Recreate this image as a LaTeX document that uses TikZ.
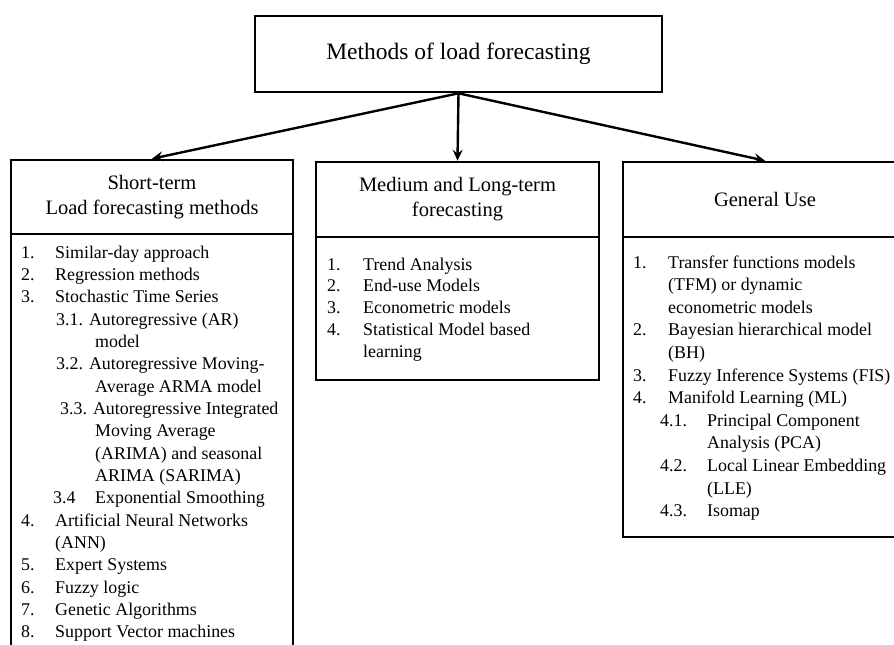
\documentclass[tikz,border=0pt]{standalone}
\usepackage{fontspec}
\setmainfont{Liberation Serif}
\usetikzlibrary{arrows.meta}
\newcommand\itemnum[2]{\makebox[#1][l]{#2}}
\begin{document}
\begin{tikzpicture}[x=1pt,y=-1pt,
  box/.style={draw, line width=2.6pt, rectangle, inner sep=0pt},
  hdr/.style={box, align=center, font=\fontsize{20.5}{25}\selectfont},
  item/.style={anchor=base west, inner sep=0pt, font=\fontsize{17.9}{22}\selectfont},
  arr/.style={line width=2.4pt, -{Stealth[length=11pt,width=10pt,inset=4pt]}}]
\useasboundingbox (0,0) rectangle (894,645);
\clip (0,0) rectangle (894,645);

\node[box, minimum width=407pt, minimum height=76pt, font=\fontsize{23.5}{28}\selectfont] (top) at (458.5,54) {Methods of load forecasting};

% headers
\node[hdr, minimum width=282pt, minimum height=74pt] (sh) at (152,197) {Short-term\\Load forecasting methods};
\node[hdr, minimum width=283pt, minimum height=75pt] (mh) at (457.5,199.5) {Medium and Long-term\\forecasting};
\node[hdr, minimum width=284pt, minimum height=75pt] (gh) at (765,199.5) {General Use};

% list boxes
\node[box, minimum width=282pt, minimum height=436pt] (sl) at (152,452) {};
\node[box, minimum width=283pt, minimum height=143pt] (ml) at (457.5,308.5) {};
\node[box, minimum width=284pt, minimum height=300pt] (gl) at (765,387) {};

% connectors
\draw[arr] (top.south) -- (sh.north);
\draw[arr] (top.south) -- (mh.north);
\draw[arr] (top.south) -- (gh.north);

% left list
\foreach \x/\k/\t [count=\i] in {
  21/0/{\itemnum{34pt}{1.}Similar-day approach},
  21/1/{\itemnum{34pt}{2.}Regression methods},
  21/2/{\itemnum{34pt}{3.}Stochastic Time Series},
  56/3/{3.1. Autoregressive (AR)},
  95/4/{model},
  56/5/{3.2. Autoregressive Moving-},
  95/6/{Average ARMA model},
  60/7/{3.3. Autoregressive Integrated},
  95/8/{Moving Average},
  95/9/{(ARIMA) and seasonal},
  95/10/{ARIMA (SARIMA)},
  53/11/{\itemnum{42pt}{3.4}Exponential Smoothing},
  21/12/{\itemnum{34pt}{4.}Artificial Neural Networks},
  55/13/{(ANN)},
  21/14/{\itemnum{34pt}{5.}Expert Systems},
  21/15/{\itemnum{34pt}{6.}Fuzzy logic},
  21/16/{\itemnum{34pt}{7.}Genetic Algorithms},
  21/17/{\itemnum{34pt}{8.}Support Vector machines}}
  \node[item] (sli\i) at (\x,{258+22.35*\k}) {\t};

% middle list
\foreach \x/\k/\t [count=\i] in {
  327/0/{\itemnum{36pt}{1.}Trend Analysis},
  327/1/{\itemnum{36pt}{2.}End-use Models},
  327/2/{\itemnum{36pt}{3.}Econometric models},
  327/3/{\itemnum{36pt}{4.}Statistical Model based},
  363/4/{learning}}
  \node[item] (mli\i) at (\x,{270+21.8*\k}) {\t};

% right list
\foreach \x/\k/\t [count=\i] in {
  633/0/{\itemnum{35pt}{1.}Transfer functions models},
  668/1/{(TFM) or dynamic},
  668/2/{econometric models},
  633/3/{\itemnum{35pt}{2.}Bayesian hierarchical model},
  668/4/{(BH)},
  633/5/{\itemnum{35pt}{3.}Fuzzy Inference Systems (FIS)},
  633/6/{\itemnum{35pt}{4.}Manifold Learning (ML)},
  660/7/{\itemnum{47pt}{4.1.}Principal Component},
  707/8/{Analysis (PCA)},
  660/9/{\itemnum{47pt}{4.2.}Local Linear Embedding},
  707/10/{(LLE)},
  660/11/{\itemnum{47pt}{4.3.}Isomap}}
  \node[item] (gli\i) at (\x,{268+22.6*\k}) {\t};
\end{tikzpicture}
\end{document}
